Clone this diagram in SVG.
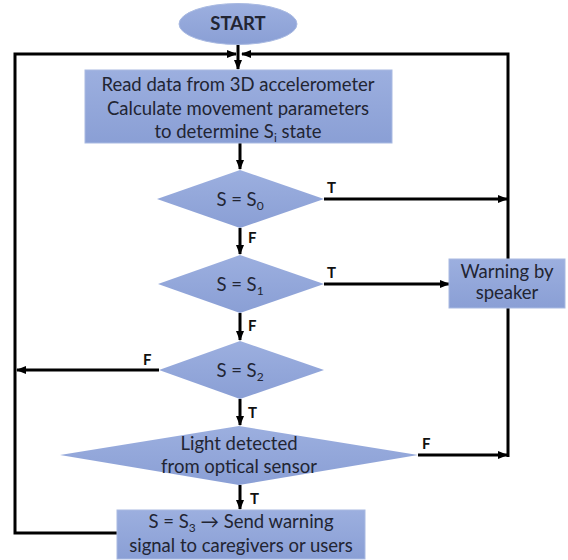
<svg xmlns="http://www.w3.org/2000/svg" width="568" height="560" viewBox="0 0 568 560">
<style>
.shape{fill:url(#fillg);stroke:#A9BAE2;stroke-width:1}
.dia{fill:url(#fillg);stroke:none}
.t{font-family:Lato,"Liberation Sans",sans-serif;font-size:18.5px;fill:#222533;text-anchor:middle}
.lbl{font-family:Lato,"Liberation Sans",sans-serif;font-size:15px;font-weight:bold;fill:#111}
.c{fill:none;stroke:#000;stroke-width:3}
.bold{font-weight:bold}
</style>
<defs>
<linearGradient id="fillg" x1="0" y1="0" x2="0" y2="1">
<stop offset="0" stop-color="#9CAFDF"/>
<stop offset="1" stop-color="#8A9FD5"/>
</linearGradient>
<marker id="ah" markerUnits="userSpaceOnUse" markerWidth="10" markerHeight="10" viewBox="0 0 10 10" refX="9" refY="5" orient="auto">
<path d="M0,1 L10,5 L0,9 z" fill="#000"/>
</marker>
</defs>
<g id="connectors">
<path class="c" d="M238,44 V69" marker-end="url(#ah)"/>
<path class="c" d="M117,533 H15 V54 H236" marker-end="url(#ah)"/>
<path class="c" d="M508,457 V54 H242" marker-end="url(#ah)"/>
<path class="c" d="M240,143 V169" marker-end="url(#ah)"/>
<path class="c" d="M240,228 V254" marker-end="url(#ah)"/>
<path class="c" d="M240,313 V340" marker-end="url(#ah)"/>
<path class="c" d="M240,399 V425" marker-end="url(#ah)"/>
<path class="c" d="M240,485 V509" marker-end="url(#ah)"/>
<path class="c" d="M324,199 H507" marker-end="url(#ah)"/>
<path class="c" d="M324,284 H449" marker-end="url(#ah)"/>
<path class="c" d="M159,370 H17" marker-end="url(#ah)"/>
<path class="c" d="M418,455 H507" marker-end="url(#ah)"/>
<text class="lbl" x="327" y="193">T</text>
<text class="lbl" x="248" y="243">F</text>
<text class="lbl" x="327" y="278">T</text>
<text class="lbl" x="248" y="331">F</text>
<text class="lbl" x="143" y="365">F</text>
<text class="lbl" x="248" y="418">T</text>
<text class="lbl" x="422" y="449">F</text>
<text class="lbl" x="250" y="504">T</text>
</g>
<g id="start">
<ellipse class="shape" cx="238" cy="24" rx="59" ry="20.5"/>
<text class="t bold" x="238" y="30" font-size="17">START</text>
</g>
<g id="read">
<rect class="shape" x="85" y="70" width="307" height="73"/>
<text class="t" x="238" y="91">Read data from 3D accelerometer</text>
<text class="t" x="238" y="115">Calculate movement parameters</text>
<text class="t" x="238" y="138">to determine S<tspan font-size="12" dy="4">i</tspan><tspan dy="-4"> state</tspan></text>
</g>
<g id="d0">
<polygon class="dia" points="240,170 324,199 240,228 157,199"/>
<text class="t" x="240" y="206">S = S<tspan font-size="12" dy="4">0</tspan></text>
</g>
<g id="d1">
<polygon class="dia" points="240,255 324,284 240,313 158,284"/>
<text class="t" x="240" y="291">S = S<tspan font-size="12" dy="4">1</tspan></text>
</g>
<g id="d2">
<polygon class="dia" points="240,341 324,370 240,399 159,370"/>
<text class="t" x="240" y="377">S = S<tspan font-size="12" dy="4">2</tspan></text>
</g>
<g id="light">
<polygon class="dia" points="239,426 418,455 239,485 60,455"/>
<text class="t" x="239" y="450">Light detected</text>
<text class="t" x="239" y="473">from optical sensor</text>
</g>
<g id="warn">
<rect class="shape" x="449" y="259" width="116" height="49"/>
<text class="t" x="507" y="278" font-size="17.5">Warning by</text>
<text class="t" x="507" y="299" font-size="17.5">speaker</text>
</g>
<g id="send">
<rect class="shape" x="117" y="510" width="248" height="49"/>
<text class="t" x="241" y="528">S = S<tspan font-size="12" dy="4">3</tspan><tspan dy="-4"> → Send warning</tspan></text>
<text class="t" x="241" y="552">signal to caregivers or users</text>
</g>
</svg>
